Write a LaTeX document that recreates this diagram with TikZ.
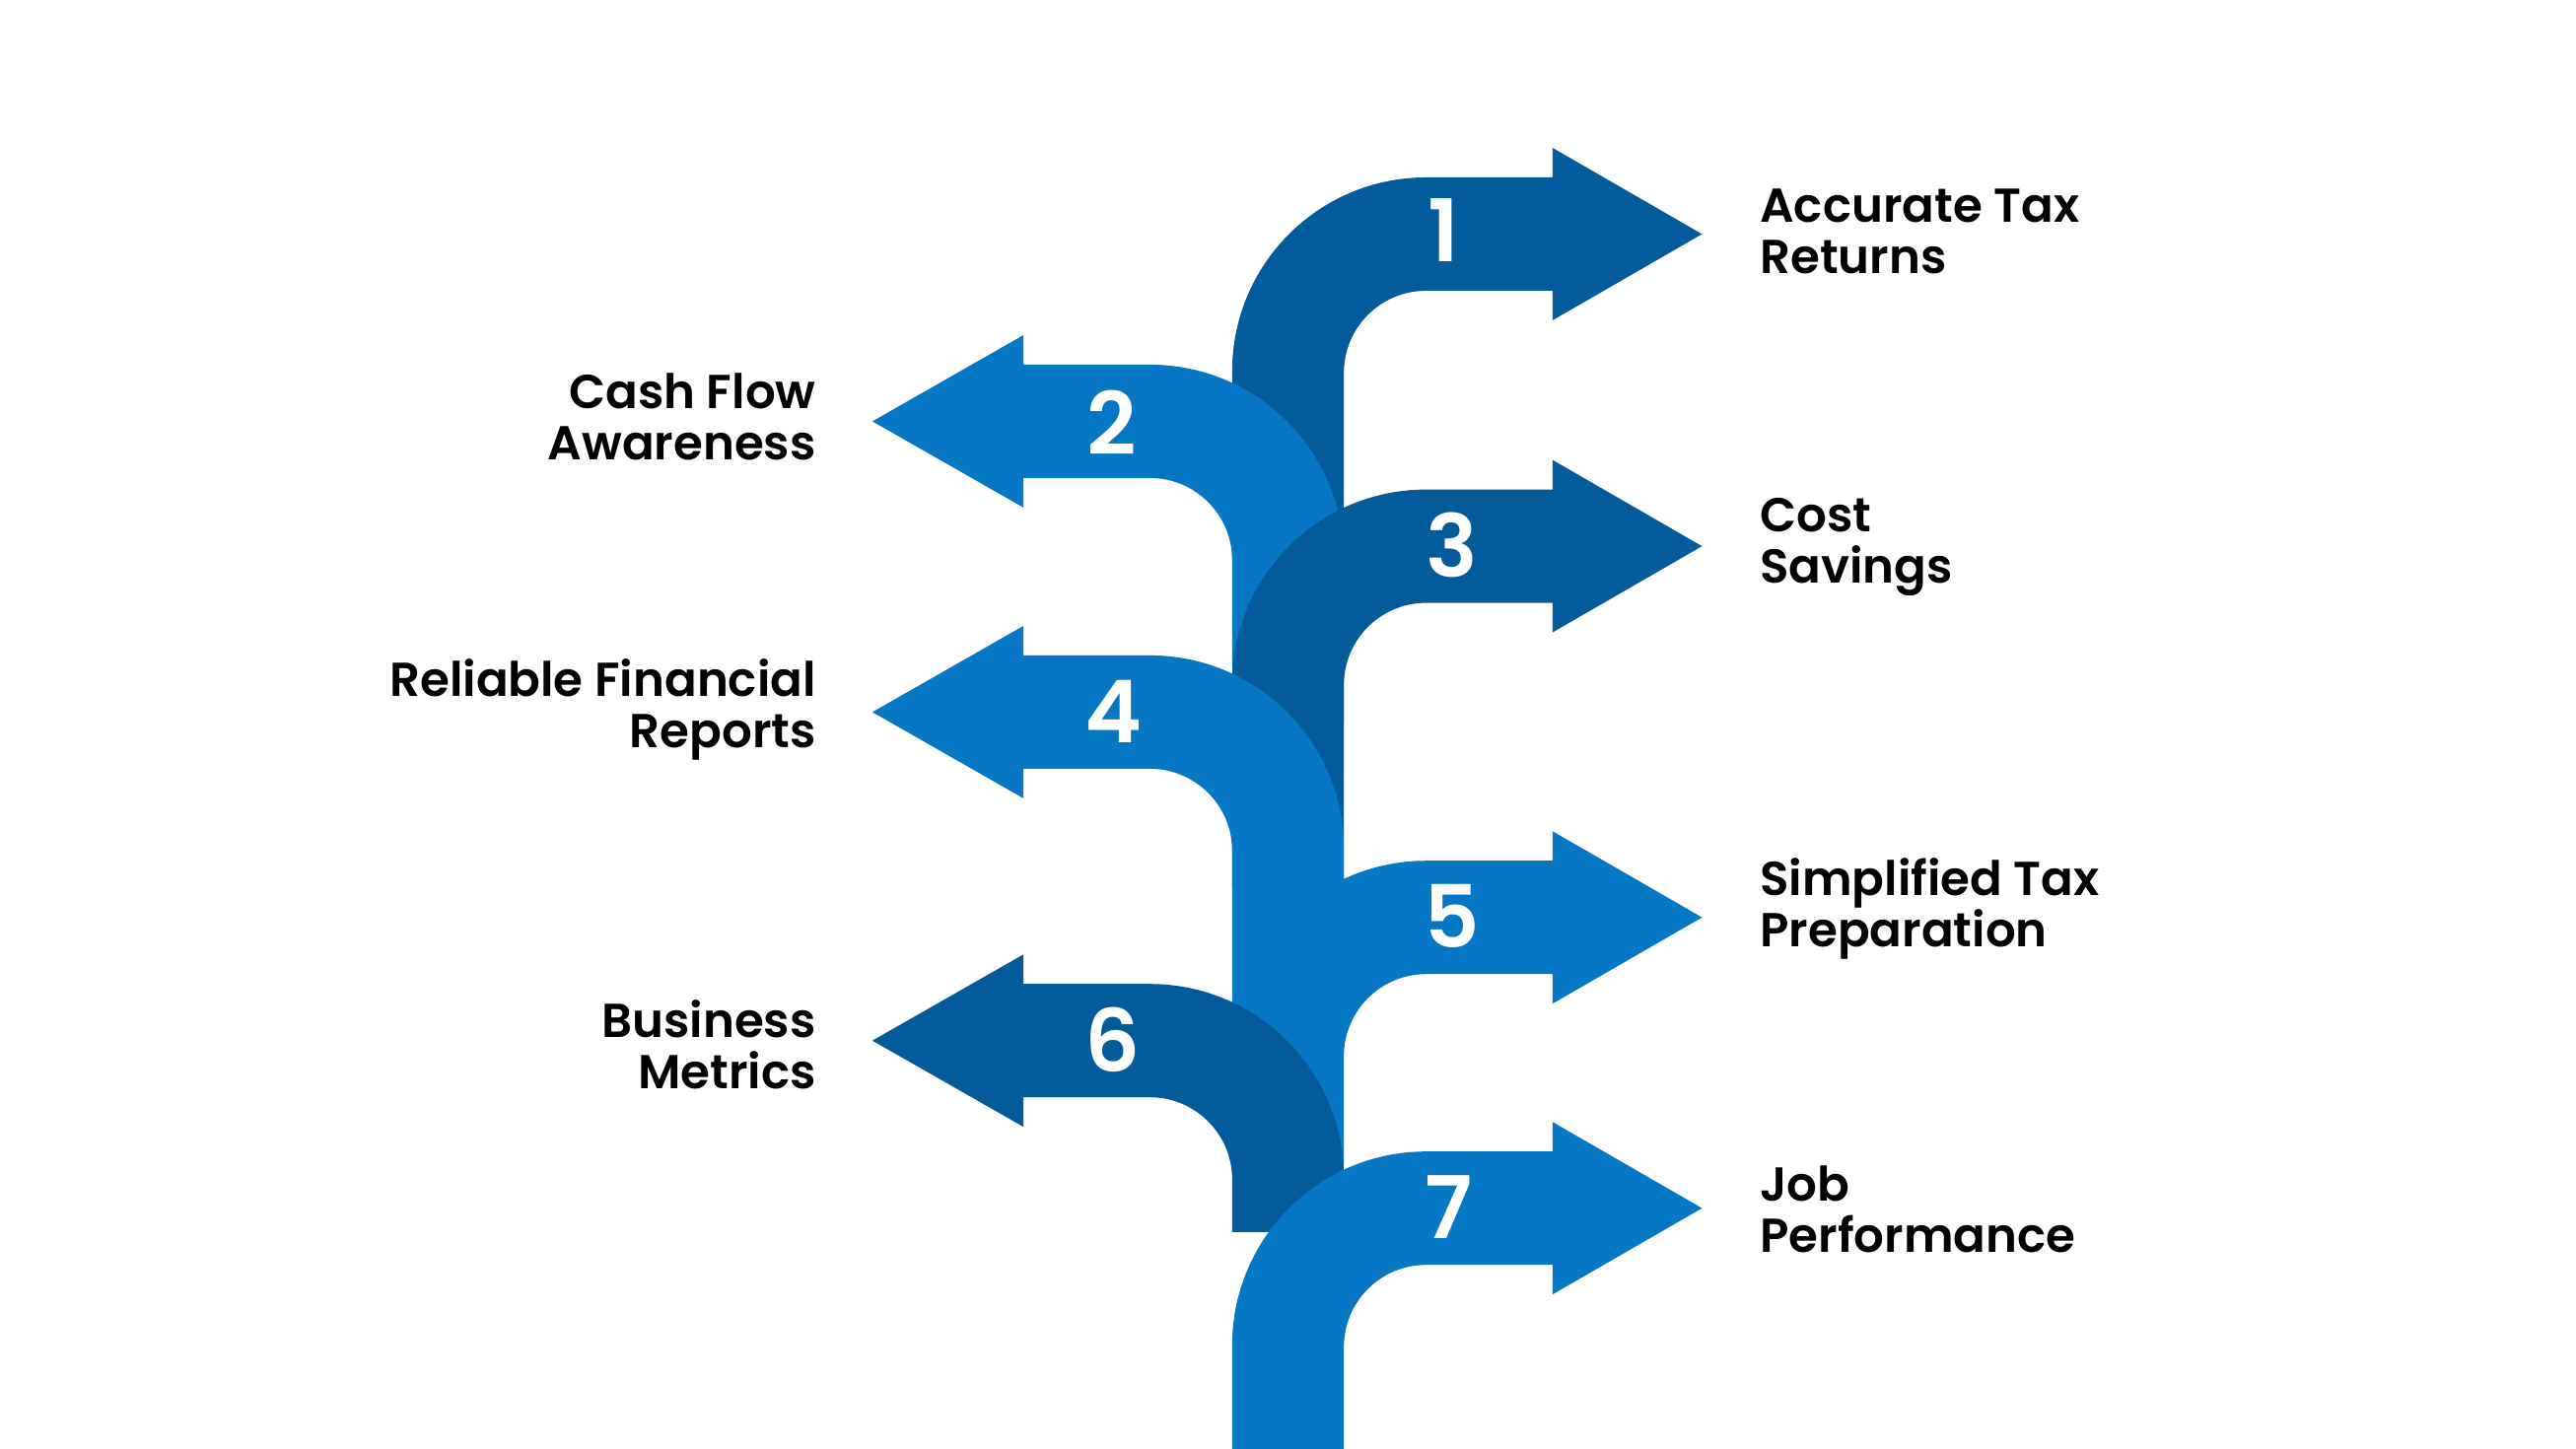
\documentclass[tikz,border=0pt]{standalone}
\usepackage{fontspec}
\setmainfont{Poppins}[BoldFont={* SemiBold}]
\definecolor{dk}{HTML}{045B9B}
\definecolor{lt}{HTML}{0677C4}
\newcommand\rArr[3]{% top, stem end, color
  \fill[#3] (750,#2) -- (750,#1+118) arc[start angle=180,end angle=270,radius=118] -- (945,#1) -- (945,#1-18) -- (1036,#1+34.5) -- (945,#1+87) -- (945,#1+69) -- (868,#1+69) arc[start angle=270,end angle=180,radius=50] -- (818,#2) -- cycle;}
\newcommand\lArr[3]{%
  \fill[#3] (818,#2) -- (818,#1+118) arc[start angle=0,end angle=-90,radius=118] -- (623,#1) -- (623,#1-18) -- (531,#1+34.5) -- (623,#1+87) -- (623,#1+69) -- (700,#1+69) arc[start angle=-90,end angle=0,radius=50] -- (750,#2) -- cycle;}
\tikzset{lab/.style={font=\bfseries\fontsize{16.5}{17.8}\selectfont,text=black,inner sep=0pt},
 num/.style={font=\fontsize{30}{30}\selectfont\bfseries,text=white,inner sep=0pt}}
\begin{document}
\begin{tikzpicture}[x=0.02cm,y=-0.02cm]
\useasboundingbox (0,0) rectangle (1568,882);
\rArr{108}{340}{dk}
\lArr{222}{440}{lt}
\rArr{298}{540}{dk}
\lArr{399}{630}{lt}
\rArr{524}{710}{lt}
\lArr{599}{750}{dk}
\rArr{701}{882}{lt}
\node[num] (n1) at (879,140) {1};
\node[num] (n2) at (677,257) {2};
\node[num] (n3) at (884,332) {3};
\node[num] (n4) at (678,433) {4};
\node[num] (n5) at (884,558) {5};
\node[num] (n6) at (677,633) {6};
\node[num] (n7) at (882,735) {7};
\node[lab,anchor=west,align=left] (t1) at (1071,141) {Accurate Tax\\Returns};
\node[lab,anchor=west,align=left] (t3) at (1071,333) {Cost\\Savings};
\node[lab,anchor=west,align=left] (t5) at (1071,553) {Simplified Tax\\Preparation};
\node[lab,anchor=west,align=left] (t7) at (1071,736) {Job\\Performance};
\node[lab,anchor=east,align=right] (t2) at (497,254) {Cash Flow\\Awareness};
\node[lab,anchor=east,align=right] (t4) at (497,432) {Reliable Financial\\Reports};
\node[lab,anchor=east,align=right] (t6) at (497,636) {Business\\Metrics};
\end{tikzpicture}
\end{document}
